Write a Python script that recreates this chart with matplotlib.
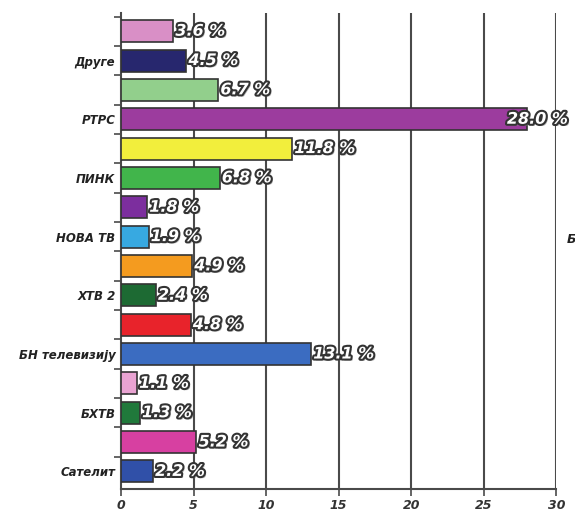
import numpy as np
import matplotlib.pyplot as plt
import matplotlib.patheffects as pe

# Vrednosti (od vrha ka dnu)
values = [3.6, 4.5, 6.7, 28.0, 11.8, 6.8, 1.8, 1.9, 4.9, 2.4, 4.8, 13.1, 1.1, 1.3, 5.2, 2.2]
colors = ["#d98fc6", "#27276e", "#92cf8c", "#9c3c9e", "#f2ee3c", "#41b54b", "#7c2e9e", "#37a9e1",
          "#f49b1f", "#1d6a33", "#e8232b", "#3b6cc1", "#e9a3d2", "#20793b", "#d740a1", "#3050a8"]
# Naziv stoji kod donjeg stupca u svakom paru
names = ["Друге", "РТРС", "ПИНК", "НОВА ТВ", "ХТВ 2", "БН телевизију", "БХТВ", "Сателит"]
xticks = [0, 5, 10, 15, 20, 25, 30]

fig = plt.figure(figsize=(5.75, 5.11), dpi=100)
ax = fig.add_axes([0.2104, 0.043, 0.757, 0.9316])

pos = np.arange(len(values))
ax.barh(pos, values, height=0.75, color=colors, edgecolor="#333333", linewidth=1.2, zorder=3)

# Oznake vrednosti: bijeli tekst sa tamnim obrubom i sjenkom
efekti = [pe.SimplePatchShadow(offset=(1.5, -1.5), shadow_rgbFace="#888888", alpha=0.6),
          pe.withStroke(linewidth=3, foreground="#333333")]
for i, v in enumerate(values):
    x = min(v + 0.15, 26.6)
    ax.text(x, i, f"{v:.1f} %", va="center", ha="left", fontsize=11.5, fontweight="bold",
            fontstyle="italic", color="white", path_effects=efekti, zorder=5)

ax.set_xlim(0, 30)
ax.set_ylim(15.6, -0.62)

# Mreza
for g in xticks[1:]:
    ax.axvline(g, color="#4a4a4a", linewidth=1.5, zorder=1)

ax.set_xticks(xticks)
ax.set_xticklabels([str(t) for t in xticks], fontsize=9, fontweight="bold", fontstyle="italic", color="#333333")
ax.tick_params(axis="x", length=5, width=1.2, color="#4a4a4a", pad=2)

ax.set_yticks(pos[1::2])
ax.set_yticklabels(names, fontsize=8.5, fontweight="bold", fontstyle="italic", color="#222222")
ax.tick_params(axis="y", length=0, pad=4)
ax.set_yticks(np.arange(-0.5, 15.5, 1), minor=True)
ax.tick_params(axis="y", which="minor", length=5, width=1.2, color="#4a4a4a")

for s in ["top", "right"]:
    ax.spines[s].set_visible(False)
for s in ["left", "bottom"]:
    ax.spines[s].set_color("#4a4a4a")
    ax.spines[s].set_linewidth(1.5)

# Odsjeceni tekst na desnoj ivici
fig.text(0.986, 0.525, "Б", fontsize=9, fontweight="bold", fontstyle="italic", color="#222222")

fig.savefig("out.png", dpi=100)
